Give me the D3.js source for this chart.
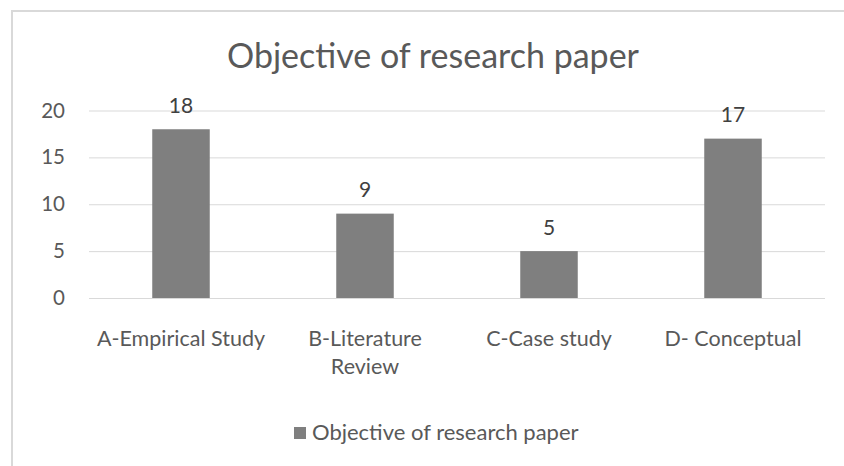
<!DOCTYPE html>
<html>
<head>
<meta charset="utf-8">
<script src="https://cdn.jsdelivr.net/npm/d3@7"></script>
<style>
  html, body { margin: 0; padding: 0; background: #fff; }
  svg { display: block; font-family: Lato, "Open Sans", sans-serif; }
</style>
</head>
<body>
<svg id="chart" width="844" height="466"></svg>
<script>
// Categories and counts
const categories = ["A-Empirical Study", "B-Literature Review", "C-Case study", "D- Conceptual"];
const categoryLines = [["A-Empirical Study"], ["B-Literature", "Review"], ["C-Case study"], ["D- Conceptual"]];
const counts = [18, 9, 5, 17];
const yTicks = [0, 5, 10, 15, 20];
const seriesName = "Objective of research paper";
const chartTitle = "Objective of research paper";

const svg = d3.select("#chart");
const W = 844, H = 466;
const plot = { left: 89, right: 825, top: 110.5, bottom: 298 };

// chart area frame
svg.append("rect")
  .attr("x", 12).attr("y", 11)
  .attr("width", W + 20).attr("height", H + 20)
  .attr("fill", "#fff")
  .attr("stroke", "#d9d9d9").attr("stroke-width", 2);

const x = d3.scaleBand()
  .domain(categories)
  .range([plot.left, plot.right])
  .paddingInner(0.6875)
  .paddingOuter(0.34375);

const y = d3.scaleLinear().domain([0, 20]).range([plot.bottom, plot.top]);

// title
svg.append("text")
  .attr("x", 433).attr("y", 68)
  .attr("text-anchor", "middle")
  .attr("fill", "#595959")
  .attr("font-size", 34)
  .text(chartTitle);

// gridlines
const yAxis = d3.axisLeft(y).tickValues(yTicks).tickSize(-(plot.right - plot.left)).tickPadding(24);
const gy = svg.append("g").attr("transform", `translate(${plot.left},0)`).call(yAxis);
gy.select(".domain").remove();
gy.selectAll(".tick line").attr("stroke", "#d9d9d9").attr("stroke-width", 1);
gy.selectAll(".tick text")
  .attr("fill", "#595959")
  .attr("font-size", 20.5)
  .attr("font-family", "Lato, sans-serif");

// bars
svg.append("g").selectAll("rect")
  .data(categories)
  .join("rect")
  .attr("x", d => x(d))
  .attr("width", x.bandwidth())
  .attr("y", (d, i) => y(counts[i]))
  .attr("height", (d, i) => y(0) - y(counts[i]))
  .attr("fill", "#7f7f7f");

// value labels
svg.append("g").selectAll("text")
  .data(categories)
  .join("text")
  .attr("x", d => x(d) + x.bandwidth() / 2)
  .attr("y", (d, i) => y(counts[i]) - 16.5)
  .attr("text-anchor", "middle")
  .attr("fill", "#404040")
  .attr("font-size", 21)
  .text((d, i) => counts[i]);

// category labels
const xl = svg.append("g").selectAll("text")
  .data(categories)
  .join("text")
  .attr("x", d => x(d) + x.bandwidth() / 2)
  .attr("y", 346)
  .attr("text-anchor", "middle")
  .attr("fill", "#595959")
  .attr("font-size", 21.5);
xl.each(function(d, i) {
  const t = d3.select(this);
  categoryLines[i].forEach((line, j) => {
    t.append("tspan")
      .attr("x", x(d) + x.bandwidth() / 2)
      .attr("dy", j === 0 ? 0 : 28)
      .text(line);
  });
});

// legend
const lg = svg.append("g").attr("transform", "translate(294,427)");
lg.append("rect").attr("width", 12).attr("height", 12).attr("fill", "#7f7f7f");
lg.append("text")
  .attr("x", 18).attr("y", 13)
  .attr("fill", "#595959")
  .attr("font-size", 22)
  .text(seriesName);
</script>
</body>
</html>
